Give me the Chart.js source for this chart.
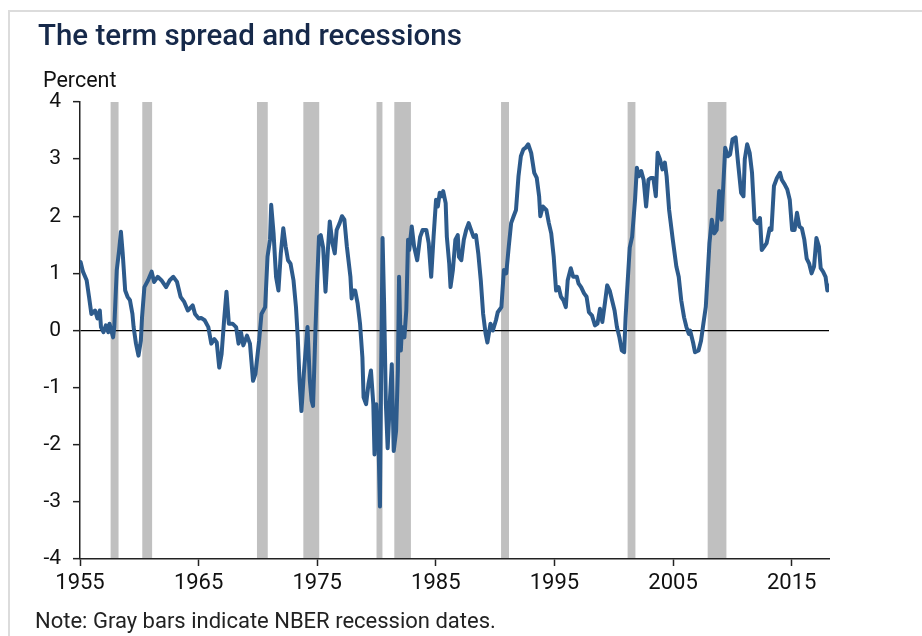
<!DOCTYPE html>
<html>
<head>
<meta charset="utf-8">
<title>The term spread and recessions</title>
<script src="https://cdn.jsdelivr.net/npm/chart.js@4/dist/chart.umd.min.js"></script>
<style>
  html, body { margin: 0; padding: 0; background: #fff; }
  #wrap { position: relative; width: 922px; height: 636px; overflow: hidden; font-family: Roboto, "Noto Sans", sans-serif; }
  #frame { position: absolute; left: 8px; top: 10px; right: -4px; bottom: -4px; border-top: 2px solid #dcdcdc; border-left: 2px solid #dcdcdc; }
  #chart { position: absolute; left: 0; top: 0; }
  .txt { position: absolute; white-space: nowrap; }
  #title { left: 38px; top: 18px; font-size: 29.5px; font-weight: 500; color: #16294a; }
  #unit { left: 43px; top: 67px; font-size: 21.5px; color: #111; }
  #note { left: 35px; top: 608px; font-size: 22px; color: #222; }
</style>
</head>
<body>
<div id="wrap">
  <div id="frame"></div>
  <canvas id="chart" width="922" height="636"></canvas>
  <div class="txt" id="title">The term spread and recessions</div>
  <div class="txt" id="unit">Percent</div>
  <div class="txt" id="note">Note: Gray bars indicate NBER recession dates.</div>
</div>
<script>
// values (10-year minus 3-month spread, percent)
const spreadYears = [
  1955.05,1955.25,1955.56,1955.76,1955.96,1956.27,1956.47,1956.67,1956.77,1956.98,
  1957.18,1957.39,1957.49,1957.79,1957.89,1958.10,1958.30,1958.45,1958.60,1958.81,
  1959.01,1959.21,1959.42,1959.52,1959.72,1959.93,1960.13,1960.23,1960.43,1960.74,
  1961.04,1961.25,1961.55,1961.86,1962.26,1962.57,1962.87,1963.18,1963.48,1963.79,
  1964.09,1964.50,1964.70,1965.01,1965.21,1965.51,1965.82,1966.07,1966.33,1966.53,
  1966.74,1966.94,1967.15,1967.35,1967.55,1967.86,1968.16,1968.37,1968.57,1968.77,
  1969.08,1969.33,1969.59,1969.79,1970.10,1970.30,1970.61,1970.81,1971.02,1971.12,
  1971.32,1971.53,1971.73,1971.93,1972.14,1972.34,1972.54,1972.75,1973.00,1973.21,
  1973.36,1973.51,1973.67,1973.87,1974.18,1974.38,1974.53,1974.65,1974.85,1975.00,
  1975.15,1975.30,1975.50,1975.70,1975.90,1976.06,1976.28,1976.48,1976.64,1976.89,
  1977.09,1977.29,1977.50,1977.80,1977.90,1978.00,1978.20,1978.41,1978.61,1978.81,
  1978.91,1979.12,1979.32,1979.53,1979.73,1979.83,1979.98,1980.14,1980.29,1980.39,
  1980.51,1980.64,1980.79,1980.94,1981.14,1981.29,1981.45,1981.65,1981.80,1981.90,
  1982.05,1982.15,1982.35,1982.51,1982.66,1982.76,1982.97,1983.17,1983.43,1983.68,
  1983.89,1984.20,1984.40,1984.61,1984.81,1985.02,1985.17,1985.33,1985.53,1985.62,
  1985.83,1985.93,1986.13,1986.24,1986.44,1986.65,1986.85,1986.95,1987.15,1987.36,
  1987.56,1987.77,1987.97,1988.18,1988.38,1988.58,1988.79,1988.99,1989.20,1989.35,
  1989.61,1989.81,1990.07,1990.22,1990.53,1990.74,1990.94,1991.15,1991.35,1991.56,
  1991.76,1991.97,1992.17,1992.38,1992.58,1992.79,1993.04,1993.30,1993.51,1993.71,
  1993.81,1994.02,1994.32,1994.53,1994.73,1994.94,1995.14,1995.35,1995.55,1995.76,
  1995.96,1996.12,1996.38,1996.58,1996.89,1997.04,1997.25,1997.50,1997.71,1997.91,
  1998.17,1998.42,1998.63,1998.84,1999.04,1999.25,1999.45,1999.66,1999.86,2000.07,
  2000.27,2000.48,2000.68,2000.88,2001.00,2001.10,2001.35,2001.55,2001.80,2001.95,
  2002.11,2002.32,2002.52,2002.73,2002.93,2003.14,2003.34,2003.55,2003.70,2003.90,
  2004.11,2004.31,2004.46,2004.67,2004.98,2005.28,2005.48,2005.69,2005.93,2006.13,
  2006.33,2006.44,2006.69,2006.85,2007.15,2007.36,2007.56,2007.76,2007.91,2008.07,
  2008.27,2008.48,2008.68,2008.89,2009.09,2009.19,2009.40,2009.61,2009.81,2010.02,
  2010.28,2010.48,2010.74,2010.94,2011.05,2011.25,2011.46,2011.66,2011.87,2012.12,
  2012.33,2012.48,2012.69,2012.89,2013.15,2013.30,2013.51,2013.76,2014.02,2014.17,
  2014.43,2014.63,2014.84,2015.04,2015.25,2015.45,2015.66,2015.86,2016.07,2016.27,
  2016.48,2016.68,2016.89,2017.09,2017.30,2017.45,2017.65,2017.86,2018.01,2018.12
];

const spreadValues = [
  1.20,1.03,0.88,0.59,0.29,0.35,0.21,0.35,0.06,-0.03,
  0.09,-0.03,0.12,-0.12,0.06,1.06,1.41,1.73,1.35,0.70,
  0.59,0.53,0.29,0.06,-0.23,-0.44,-0.18,0.23,0.76,0.88,
  1.03,0.85,0.94,0.88,0.76,0.88,0.94,0.85,0.59,0.50,
  0.35,0.44,0.29,0.21,0.22,0.18,0.06,-0.23,-0.15,-0.21,
  -0.65,-0.41,0.18,0.68,0.12,0.12,0.06,-0.23,-0.03,-0.26,
  -0.09,-0.23,-0.88,-0.76,-0.18,0.29,0.41,1.29,1.59,2.20,
  1.70,0.94,0.70,1.35,1.79,1.47,1.23,1.17,0.88,0.41,
  -0.12,-0.88,-1.41,-0.76,0.06,-0.88,-1.23,-1.32,0.00,0.88,
  1.64,1.67,1.45,0.68,1.41,1.91,1.53,1.35,1.76,1.88,
  2.00,1.94,1.47,0.94,0.56,0.70,0.70,0.47,0.12,-0.47,
  -1.17,-1.29,-0.94,-0.70,-1.29,-2.17,-1.29,-1.76,-3.08,-0.70,
  1.62,0.47,-1.29,-2.06,-1.17,-0.59,-2.11,-1.76,-0.70,0.94,
  -0.35,0.06,-0.12,0.35,1.59,1.41,1.82,1.47,1.23,1.64,
  1.76,1.76,1.53,0.94,1.64,2.29,2.17,2.41,2.35,2.44,
  2.23,1.64,1.17,0.76,1.06,1.59,1.67,1.29,1.23,1.59,
  1.76,1.88,1.76,1.64,1.67,1.35,0.88,0.29,-0.06,-0.21,
  0.12,0.00,0.18,0.32,0.41,1.06,1.00,1.47,1.88,2.00,
  2.11,2.70,3.05,3.17,3.20,3.26,3.11,2.76,2.67,2.35,
  2.00,2.17,2.11,1.88,1.70,1.29,0.70,0.76,0.59,0.53,
  0.41,0.88,1.09,0.94,0.94,0.82,0.76,0.65,0.59,0.32,
  0.26,0.09,0.12,0.38,0.15,0.47,0.79,0.70,0.53,0.35,
  0.06,-0.12,-0.35,-0.38,0.23,0.60,1.45,1.64,2.30,2.85,
  2.70,2.79,2.64,2.17,2.64,2.67,2.67,2.35,3.11,3.00,
  2.82,2.94,2.70,2.11,1.59,1.12,0.94,0.53,0.23,0.06,
  -0.06,0.00,-0.21,-0.38,-0.35,-0.18,0.12,0.41,0.94,1.53,
  1.94,1.70,1.76,2.44,1.94,2.35,3.20,3.05,3.08,3.35,
  3.38,2.94,2.41,2.35,3.00,3.26,3.11,2.76,1.94,1.88,
  1.97,1.41,1.47,1.53,1.79,1.76,2.53,2.67,2.76,2.64,
  2.55,2.47,2.29,1.76,1.76,2.06,1.82,1.79,1.59,1.26,
  1.17,1.00,1.12,1.62,1.47,1.09,1.03,0.94,0.70,0.79
];

// NBER recessions, peak to trough (decimal years)
const recessionStart = [1957.58, 1960.25, 1969.92, 1973.83, 1980.0, 1981.5, 1990.5, 2001.17, 2007.92];
const recessionEnd   = [1958.25, 1961.08, 1970.83, 1975.17, 1980.5, 1982.9, 1991.17, 2001.83, 2009.5];

const xTickYears = [1955, 1965, 1975, 1985, 1995, 2005, 2015];
const yTickValues = [-4, -3, -2, -1, 0, 1, 2, 3, 4];

const recessionBars = {
  id: 'recessionBars',
  beforeDraw(chart) {
    const { ctx, chartArea, scales } = chart;
    ctx.save();
    ctx.fillStyle = '#c0c0c0';
    recessionStart.forEach((start, i) => {
      const x0 = scales.x.getPixelForValue(start);
      const x1 = scales.x.getPixelForValue(recessionEnd[i]);
      ctx.fillRect(x0, chartArea.top, x1 - x0, chartArea.bottom - chartArea.top);
    });
    ctx.restore();
  }
};

new Chart(document.getElementById('chart').getContext('2d'), {
  type: 'line',
  data: {
    datasets: [{
      label: 'Term spread',
      data: spreadYears.map((yr, i) => ({ x: yr, y: spreadValues[i] })),
      borderColor: '#2d5b8c',
      borderWidth: 4,
      pointRadius: 0,
      tension: 0,
      fill: false,
      borderJoinStyle: 'round',
      borderCapStyle: 'round'
    }]
  },
  options: {
    responsive: false,
    animation: false,
    layout: { padding: { left: 0, top: 102, right: 93, bottom: 0 } },
    plugins: {
      legend: { display: false },
      tooltip: { enabled: false }
    },
    scales: {
      x: {
        type: 'linear',
        min: 1955,
        max: 2018.15,
        afterBuildTicks: (scale) => { scale.ticks = xTickYears.map(v => ({ value: v })); },
        afterFit: (scale) => { scale.height = 77; },
        border: { display: true, color: '#222', width: 1.5 },
        grid: { drawOnChartArea: false, tickLength: 7, tickColor: '#222', tickWidth: 1.5 },
        ticks: { color: '#111', font: { family: 'Roboto', size: 22 }, padding: 4, maxRotation: 0, autoSkip: false,
                 callback: v => String(v) }
      },
      y: {
        min: -4,
        max: 4,
        afterBuildTicks: (scale) => { scale.ticks = yTickValues.map(v => ({ value: v })); },
        afterFit: (scale) => { scale.width = 80; },
        border: { display: true, color: '#222', width: 1.5 },
        grid: {
          color: c => (c.tick && c.tick.value === 0 ? '#000' : 'rgba(0,0,0,0)'),
          lineWidth: 1.3,
          tickLength: 7,
          tickColor: '#222',
          tickWidth: 1.5
        },
        ticks: { color: '#111', font: { family: 'Roboto', size: 21 }, padding: 12, callback: v => String(v) }
      }
    }
  },
  plugins: [recessionBars]
});
</script>
</body>
</html>
